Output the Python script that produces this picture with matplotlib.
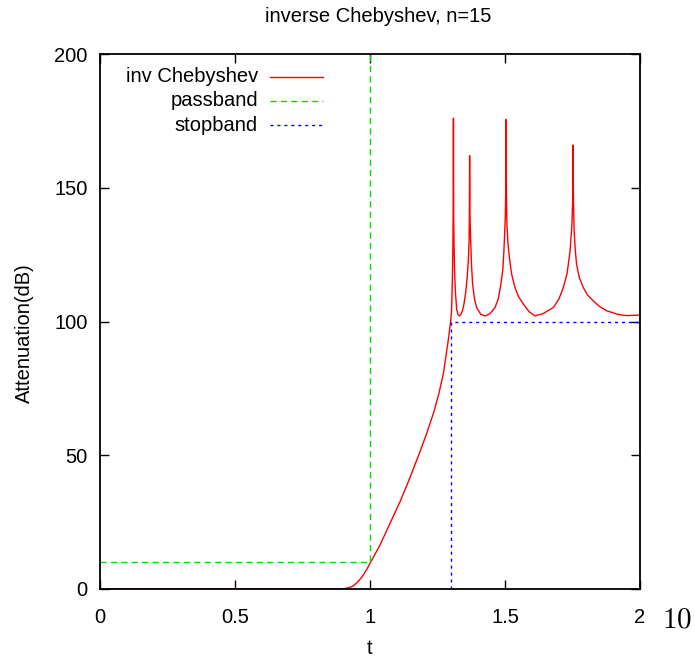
import matplotlib
matplotlib.use("Agg")
import matplotlib.pyplot as plt
from matplotlib import font_manager
from matplotlib.lines import Line2D

# pick a narrow sans if it is there (gnuplot look), else plain Liberation Sans
names = set(f.name for f in font_manager.fontManager.ttflist)
fam = "Liberation Sans Narrow" if "Liberation Sans Narrow" in names else "Liberation Sans"
plt.rcParams['font.family'] = [fam, 'DejaVu Sans']
plt.rcParams['mathtext.fontset'] = 'cm'
fs = 14.5

# data
t_vals = [0.0, 0.5, 0.85, 0.889, 0.905, 0.926, 0.94, 0.951, 0.963, 0.975,
          0.988, 1.0, 1.037, 1.074, 1.111, 1.142, 1.185, 1.21, 1.235, 1.255,
          1.272, 1.284, 1.29, 1.299,
          # peak 1
          1.302, 1.305, 1.307, 1.308, 1.309, 1.31, 1.311, 1.313, 1.316, 1.321,
          1.326, 1.331,
          # peak 2
          1.337, 1.343, 1.348, 1.354, 1.36, 1.364, 1.367, 1.368, 1.369, 1.37,
          1.373, 1.376, 1.38, 1.387, 1.395, 1.41, 1.426,
          # peak 3
          1.443, 1.463, 1.475, 1.485, 1.492, 1.496, 1.501, 1.503, 1.504, 1.505,
          1.507, 1.511, 1.516, 1.525, 1.537, 1.55, 1.568, 1.59, 1.611,
          # peak 4
          1.64, 1.679, 1.7, 1.716, 1.73, 1.741, 1.748, 1.7505, 1.752, 1.7535,
          1.756, 1.76, 1.765, 1.775, 1.79, 1.805, 1.827, 1.85, 1.877, 1.92,
          1.951, 2.0]
atten = [0.0, 0.0, 0.0, 0.0, 0.15, 0.6, 1.3, 2.3, 3.6, 5.2,
         7.3, 9.6, 16.4, 24.5, 32.6, 40.1, 51.3, 58.2, 65.7, 73.0,
         80.7, 89.0, 93.1, 100.2,
         104.0, 115.0, 128.0, 140.0, 176.0, 140.0, 130.0, 120.0, 111.5, 104.5,
         102.6, 102.1,
         102.7, 104.2, 106.5, 110.5, 116.5, 122.5, 130.0, 140.0, 162.0, 140.0,
         130.0, 121.0, 114.0, 108.5, 105.2, 102.7, 102.1,
         102.8, 105.2, 108.5, 114.0, 119.5, 126.4, 138.7, 150.0, 175.5, 150.0,
         136.4, 129.0, 124.0, 117.5, 112.7, 109.3, 106.5, 103.6, 102.1,
         102.9, 105.2, 108.5, 112.7, 118.0, 126.4, 136.4, 145.0, 166.0, 145.0,
         134.0, 127.0, 121.4, 116.5, 112.7, 110.0, 107.7, 105.6, 104.0, 102.6,
         102.2, 102.4]

pass_t = [0.0, 1.0, 1.0]
pass_a = [10, 10, 200]
stop_t = [1.3, 1.3, 2.0]
stop_a = [0, 100, 100]

x_ticks = [0, 0.5, 1, 1.5, 2]
x_labels = ["0", "0.5", "1", "1.5", "2"]
y_ticks = [0, 50, 100, 150, 200]

fig = plt.figure(figsize=(6.95, 6.61), dpi=100)
ax = fig.add_axes([100/695, 1-589/661, 540/695, 535/661])

red, green, blue = "#ff0000", "#00e000", "#0000ff"
ax.plot(t_vals, atten, color=red, lw=1.0)
ax.plot(pass_t, pass_a, color=green, lw=1.0, dashes=(4.5, 3))
ax.plot(stop_t, stop_a, color=blue, lw=1.0, dashes=(2.2, 2.8))

ax.set_xlim(0, 2)
ax.set_ylim(0, 200)
ax.set_xticks(x_ticks)
ax.set_xticklabels(x_labels)
ax.set_yticks(y_ticks)
ax.tick_params(direction='in', length=6.5, width=1, top=True, right=True,
               labelsize=fs)
ax.tick_params(axis='x', pad=14)
ax.tick_params(axis='y', pad=9)
for s in ax.spines.values():
    s.set_linewidth(1.3)

# gnuplot style key: text right aligned, sample on the right
key = [("inv Chebyshev", red, None), ("passband", green, (4.5, 3)),
       ("stopband", blue, (2.2, 2.8))]
for i, (lab, col, ds) in enumerate(key):
    yk = 0.9576 - i * 0.0452
    ax.text(0.2926, yk, lab, transform=ax.transAxes, ha='right', va='center',
            fontsize=fs)
    ln = Line2D([0.3148, 0.413], [yk, yk], transform=ax.transAxes, color=col, lw=1.0)
    if ds:
        ln.set_dashes(ds)
    ax.add_line(ln)

fig.text(378/695, 1-16/661, "inverse Chebyshev, n=15", ha='center', va='center',
         fontsize=fs)
fig.text(370/695, 1-649/661, "t", ha='center', va='center', fontsize=fs)
fig.text(24/695, 1-333/661, "Attenuation(dB)", rotation=90, ha='center',
         va='center', fontsize=fs)
fig.text(677/695, 1-619/661, r"$10$", ha='center', va='center', fontsize=21)

fig.savefig("out.png", dpi=100)
